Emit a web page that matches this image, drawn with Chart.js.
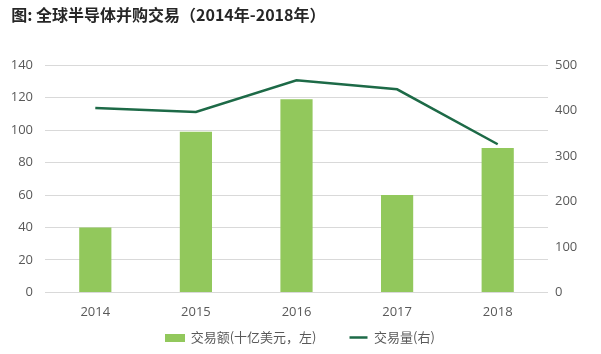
<!DOCTYPE html>
<html>
<head>
<meta charset="utf-8">
<script src="https://cdn.jsdelivr.net/npm/chart.js@4/dist/chart.umd.min.js"></script>
<style>
  html, body { margin: 0; padding: 0; background: #fff; }
  #wrap { width: 601px; height: 354px; position: relative; }
</style>
</head>
<body>
<div id="wrap"><canvas id="mergeChart"></canvas></div>
<script>
// 数据
const years = ['2014', '2015', '2016', '2017', '2018'];
const dealValue = [40, 99, 119, 60, 89];      // 交易额 (十亿美元)
const dealCount = [406, 397, 467, 447, 326];  // 交易量
const leftTicks = [0, 20, 40, 60, 80, 100, 120, 140];
const rightTicks = [0, 100, 200, 300, 400, 500];

const barColor = '#92C85C';
const lineColor = '#1D6A47';
const textColor = '#595959';
const fontFamily = "'Open Sans', 'Noto Sans CJK SC', sans-serif";

// legend swatch for bars: wide flat rectangle
const swatch = document.createElement('canvas');
swatch.width = 20;
swatch.height = 8;
const sctx = swatch.getContext('2d');
sctx.fillStyle = barColor;
sctx.fillRect(0, 0, 20, 8);

const ctx = document.getElementById('mergeChart');

new Chart(ctx, {
    data: {
        labels: years,
        datasets: [
            {
                type: 'line',
                label: '交易量(右)',
                data: dealCount,
                borderColor: lineColor,
                backgroundColor: lineColor,
                borderWidth: 2.5,
                pointRadius: 0,
                pointStyle: 'line',
                tension: 0,
                yAxisID: 'y1',
                order: 0
            },
            {
                type: 'bar',
                // trailing em spaces widen the gap between the two legend items
                label: '交易额(十亿美元，左)\u2003\u2003',
                data: dealValue,
                backgroundColor: barColor,
                pointStyle: swatch,
                barPercentage: 0.32,
                categoryPercentage: 1,
                yAxisID: 'y',
                order: 1
            }
        ]
    },
    options: {
        responsive: true,
        maintainAspectRatio: false,
        animation: false,
        layout: { padding: { left: 0, right: 0, top: 0, bottom: 0 } },
        plugins: {
            title: {
                display: true,
                // leading spaces give the small left indent of the original title
                text: '\u2002\u2009图: 全球半导体并购交易（2014年-2018年）',
                align: 'start',
                color: '#262626',
                font: { family: "'Noto Sans CJK SC', sans-serif", size: 16, weight: 'bold' },
                padding: { top: 5, bottom: 41 }
            },
            legend: {
                position: 'bottom',
                reverse: true,
                labels: {
                    color: textColor,
                    font: { family: "'Noto Sans CJK SC', sans-serif", size: 13, lineHeight: 1 },
                    usePointStyle: true,
                    pointStyleWidth: 18,
                    padding: 7
                }
            },
            tooltip: { enabled: false }
        },
        scales: {
            x: {
                grid: { display: false },
                border: { display: false },
                ticks: { color: textColor, font: { family: fontFamily, size: 13 }, padding: 4 }
            },
            y: {
                position: 'left',
                min: 0,
                max: 140,
                afterBuildTicks: s => { s.ticks = leftTicks.map(v => ({ value: v })); },
                afterFit: s => { s.width = 45; },
                grid: { color: '#D9D9D9', lineWidth: 1, drawTicks: false },
                border: { display: false },
                ticks: { color: textColor, font: { family: fontFamily, size: 13 }, padding: 12 }
            },
            y1: {
                position: 'right',
                min: 0,
                max: 500,
                afterBuildTicks: s => { s.ticks = rightTicks.map(v => ({ value: v })); },
                afterFit: s => { s.width = 53; },
                grid: { drawOnChartArea: false, drawTicks: false },
                border: { display: false },
                ticks: { color: textColor, font: { family: fontFamily, size: 13 }, padding: 7 }
            }
        }
    }
});
</script>
</body>
</html>
